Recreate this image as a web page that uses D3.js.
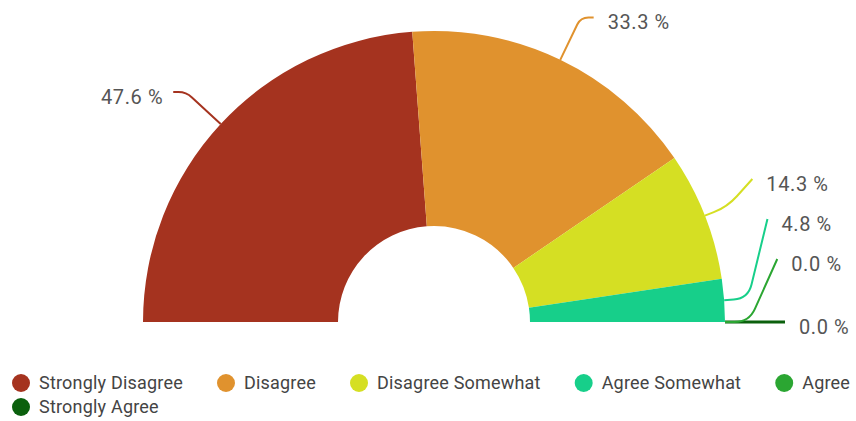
<!DOCTYPE html>
<html>
<head>
<meta charset="utf-8">
<script src="https://cdn.jsdelivr.net/npm/d3@7/dist/d3.min.js"></script>
<style>
  body { margin: 0; background: #fff; }
  text { font-family: Roboto, "Noto Sans", sans-serif; }
</style>
</head>
<body>
<svg id="chart"></svg>
<script>
// survey answers (counts of responses)
var categories = ["Strongly Disagree", "Disagree", "Disagree Somewhat", "Agree Somewhat", "Agree", "Strongly Agree"];
var counts = [10, 7, 3, 1, 0, 0];
var colors = ["#a5331f", "#e0922e", "#d5df23", "#17cf8a", "#2ba632", "#0b600d"];

var width = 856, height = 421;
var cx = 434, cy = 322;
var outerR = 291, innerR = 96;

var svg = d3.select("#chart")
    .attr("width", width)
    .attr("height", height);

var total = d3.sum(counts);
var fmt = d3.format(".1f");

var pie = d3.pie()
    .sort(null)
    .startAngle(-Math.PI / 2)
    .endAngle(Math.PI / 2)
    .value(function(d) { return d; });

var arcs = pie(counts);

var arc = d3.arc()
    .innerRadius(innerR)
    .outerRadius(outerR);

var g = svg.append("g").attr("transform", "translate(" + cx + "," + cy + ")");

g.selectAll(".slice")
    .data(arcs)
    .enter().append("path")
    .attr("class", "slice")
    .attr("d", arc)
    .style("fill", function(d, i) { return colors[i]; });

// label layout -- endpoints on a circle outside the pie, right side stacked up
function polar(r, a) { return [r * Math.sin(a), -r * Math.cos(a)]; }

var labelR = outerR + 58;
var labels = arcs.map(function(d, i) {
    var mid = (d.startAngle + d.endAngle) / 2;
    var end = polar(labelR, mid);
    return { i: i, mid: mid, right: mid > 0.2, y: end[1], natY: end[1] };
});

var rightSide = labels.filter(function(l) { return l.right; })
    .sort(function(a, b) { return b.natY - a.natY || b.i - a.i; });
var prevY = null;
rightSide.forEach(function(l, k) {
    if (prevY !== null) {
        var gap = (k == 1) ? 63 : 40;
        l.y = Math.min(l.natY, prevY - gap);
    }
    prevY = l.y;
});

labels.forEach(function(l) {
    var side = Math.sin(l.mid) >= 0 ? 1 : -1;
    l.side = side;
    l.p1 = polar(outerR, l.mid);
    if (l.y < l.natY - 1) {
        l.p2 = polar(outerR + 24, l.mid);
        l.p3 = [Math.sqrt(labelR * labelR - l.y * l.y) * side, l.y];
    } else {
        l.p2 = polar(outerR + 47, l.mid);
        l.p3 = [l.p2[0] + 13 * side, l.p2[1]];
    }
});

function smoothPath(p) {
    var s = 0.6;
    var a = p[0], b = p[1], c = p[2];
    var l1 = Math.hypot(b[0] - a[0], b[1] - a[1]);
    var l2 = Math.hypot(c[0] - b[0], c[1] - b[1]);
    var m = Math.min(l1, l2) * s;
    var m0 = [b[0] + (a[0] - b[0]) * m / l1, b[1] + (a[1] - b[1]) * m / l1];
    var m2 = [b[0] + (c[0] - b[0]) * m / l2, b[1] + (c[1] - b[1]) * m / l2];
    var path = d3.path();
    path.moveTo(a[0], a[1]);
    path.lineTo(m0[0], m0[1]);
    path.quadraticCurveTo(b[0], b[1], m2[0], m2[1]);
    path.lineTo(c[0], c[1]);
    return path.toString();
}

// draw from last to first so earlier series sit on top
g.selectAll(".labelline")
    .data(labels.slice().reverse())
    .enter().append("path")
    .attr("class", "labelline")
    .attr("d", function(l) { return smoothPath([l.p1, l.p2, l.p3]); })
    .style("fill", "none")
    .style("stroke", function(l) { return colors[l.i]; })
    .style("stroke-width", function(l) { return l.i == categories.length - 1 ? 3 : 2; });

g.selectAll(".pct")
    .data(labels)
    .enter().append("text")
    .attr("class", "pct")
    .attr("x", function(l) { return l.p3[0] + (l.side > 0 ? 14 : -10); })
    .attr("y", function(l) { return l.p3[1] + 5; })
    .attr("dy", "0.35em")
    .attr("text-anchor", function(l) { return l.side > 0 ? "start" : "end"; })
    .style("font-size", "20px")
    .style("letter-spacing", "0.6px")
    .style("fill", "#555")
    .text(function(l) { return fmt(counts[l.i] / total * 100) + " %"; });

// legend
var legend = svg.append("g").attr("class", "legend");
var lx = 21, ly = 383, rowH = 24;
categories.forEach(function(c, i) {
    var item = legend.append("g");
    item.append("circle")
        .attr("r", 9)
        .style("fill", colors[i]);
    var t = item.append("text")
        .attr("x", 18)
        .attr("dy", "0.35em")
        .style("font-size", "18px")
        .style("letter-spacing", "0.2px")
        .style("fill", "#444")
        .text(c);
    var w = t.node().getComputedTextLength();
    if (lx + 18 + w > width) {
        lx = 21;
        ly += rowH;
    }
    item.attr("transform", "translate(" + lx + "," + ly + ")");
    lx += 18 + w + 43;
});
</script>
</body>
</html>
